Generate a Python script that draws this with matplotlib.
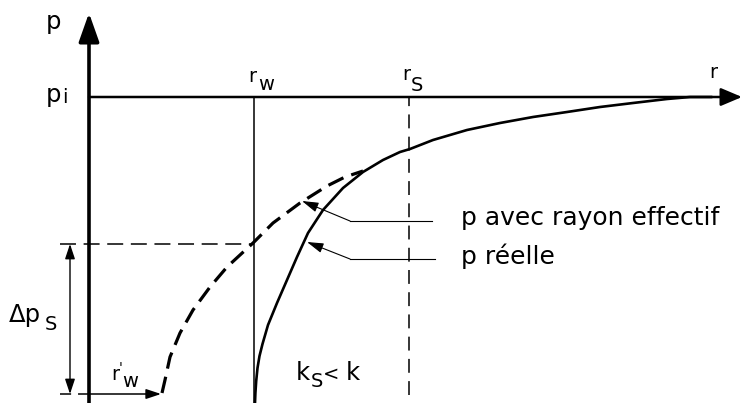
import matplotlib
matplotlib.use("Agg")
import matplotlib.pyplot as plt

plt.rcParams["font.family"] = ["DejaVu Sans"]
plt.rcParams["lines.scale_dashes"] = False

# Geometry of the sketch (horizontal: radius, vertical: pressure)
r_axis = 89          # position of the pressure axis
r_w = 254            # well radius
r_s = 409            # radius of the skin zone
r_end = 742          # tip of the r axis
p_i = 306            # initial pressure
p_top = 390          # tip of the p axis
p_skin = 159         # pressure at r_w on the effective-radius curve
p_bottom = 9         # bottom pressure level
r_w_eff = 161        # effective well radius r'_w

# Actual pressure profile (solid)
r_reelle = [255, 255.4, 256.2, 257.5, 259.5, 262.5, 268, 277, 287, 297, 308, 323,
            343, 363, 383, 400, 410, 433, 467, 500, 533, 567, 600, 633,
            667, 690, 712]
p_reelle = [0, 10, 22, 35, 47, 59, 78, 100, 123, 146, 170, 193,
            215, 231, 243, 251, 254, 263, 273, 280, 286, 291, 296, 300,
            304, 306, 306]

# Profile with effective radius (dashed)
r_eff = [162, 165, 170, 180, 193, 210, 227, 253, 273, 300, 327, 345, 363]
p_eff = [10, 23, 46, 70, 93, 116, 136, 160, 180, 200, 217, 226, 232]

fig = plt.figure(figsize=(7.43, 4.03), dpi=100)
ax = fig.add_axes([0, 0, 1, 1])
ax.set_xlim(0, 743)
ax.set_ylim(0, 403)
ax.axis("off")

k = "black"

# Axes with arrowheads
ax.annotate("", xy=(r_axis, p_top), xytext=(r_axis, -2),
            arrowprops=dict(arrowstyle="-|>,head_length=1.75,head_width=0.62",
                            mutation_scale=10, lw=2.6, color=k, shrinkA=0, shrinkB=0))
ax.annotate("", xy=(r_end, p_i), xytext=(r_axis, p_i),
            arrowprops=dict(arrowstyle="-|>,head_length=1.3,head_width=0.55",
                            mutation_scale=10, lw=1.8, color=k, shrinkA=0, shrinkB=0))

# r_w (solid) and r_S (dashed) verticals
ax.plot([r_w, r_w], [-2, p_i], color=k, lw=1.1, solid_capstyle="butt")
ax.plot([r_s, r_s], [8, p_i], color=k, lw=1.1, linestyle=(0, (10, 6)))

# Horizontal dashed guides
ax.plot([60, r_w], [p_skin, p_skin], color=k, lw=1.1, linestyle=(0, (11.5, 5.5)))
ax.plot([60, r_axis], [p_bottom, p_bottom], color=k, lw=1.1, linestyle=(0, (8, 5)))

# Pressure curves
ax.plot(r_reelle, p_reelle, color=k, lw=1.9, solid_capstyle="round",
        solid_joinstyle="round")
ax.plot(r_eff, p_eff, color=k, lw=2.3, linestyle=(0, (12, 6)),
        dash_joinstyle="round")

# Delta p_S double arrow
ax.annotate("", xy=(70, p_skin), xytext=(70, p_bottom),
            arrowprops=dict(arrowstyle="<|-|>,head_length=0.9,head_width=0.3",
                            mutation_scale=10, lw=1.0, color=k, shrinkA=0, shrinkB=0))
# r'_w arrow
ax.annotate("", xy=(r_w_eff, p_bottom), xytext=(r_axis, p_bottom),
            arrowprops=dict(arrowstyle="-|>,head_length=0.9,head_width=0.3",
                            mutation_scale=10, lw=1.1, color=k, shrinkA=0, shrinkB=0))

# Leader lines to the labels
ax.plot([350, 432], [182, 182], color=k, lw=0.8)
ax.annotate("", xy=(302, 202), xytext=(350, 182),
            arrowprops=dict(arrowstyle="-|>,head_length=1.0,head_width=0.3",
                            mutation_scale=10, lw=0.8, color=k, shrinkA=0, shrinkB=0))
ax.plot([350, 435], [144, 144], color=k, lw=0.8)
ax.annotate("", xy=(307, 161), xytext=(350, 144),
            arrowprops=dict(arrowstyle="-|>,head_length=1.0,head_width=0.3",
                            mutation_scale=10, lw=0.8, color=k, shrinkA=0, shrinkB=0))

big = 17.5
small = 14

def label(x, y, s, size, **kw):
    ax.text(x, y, s, fontsize=size, color=k, ha="left", va="baseline", **kw)

# Axis labels
label(46, 403 - 29, "p", big)
label(46, 403 - 102, "p", big)
label(62, 403 - 103, "i", small)
label(709, 403 - 78, "r", small)
label(248, 403 - 82, "r", small)
label(258, 403 - 90, "w", small)
label(402, 403 - 80, "r", small)
label(411, 403 - 91, "S", small)

# Delta p_S
label(9, 403 - 322, "Δp", big)
label(45, 403 - 330, "S", small)

# r'_w
label(111, 403 - 380, "r", small)
label(119, 403 - 372, "'", 10)
label(122, 403 - 387, "w", small)

# k_S < k
label(296, 403 - 380, "k", big)
label(311, 403 - 387, "S", small)
label(323, 403 - 380, "<", small)
label(346, 403 - 380, "k", big)

# Curve legends
label(461, 403 - 225, "p avec rayon effectif", 18)
label(461, 403 - 264, "p réelle", 18)

fig.savefig("out.png", dpi=100)
